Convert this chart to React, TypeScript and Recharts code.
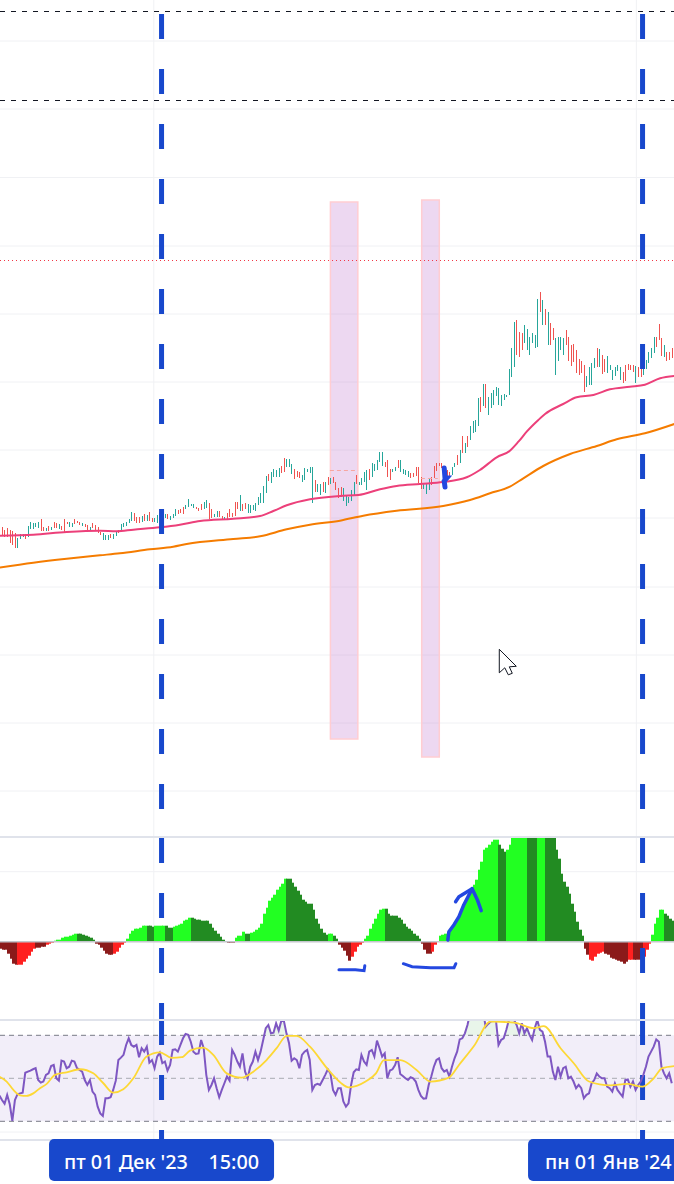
import React from "react";
import { ComposedChart, Bar, Line, Area, XAxis, YAxis, CartesianGrid, ReferenceLine, ReferenceArea, ReferenceDot } from "recharts";

const W = 674;
const UP = "#26a69a";
const DOWN = "#ef5350";
const BLUE = "#1848cc";
const INK = "#2448e0";
const GRID = "#f0f1f4";
const SEP = "#e0e3eb";

const candleHigh = [309,306,308,306,305,303,298,302,302,302,310,314,313,313,314,317,309,308,310,309,314,313,312,310,317,314,314,313,317,315,314,313,312,311,309,313,311,309,304,303,301,301,302,302,304,306,312,313,314,317,324,323,319,319,320,322,321,324,318,318,321,322,324,322,322,320,322,327,326,327,329,331,337,332,332,329,328,332,334,336,333,327,322,325,325,320,319,323,327,323,334,334,341,332,333,332,331,331,333,339,343,350,360,362,364,367,366,368,370,378,377,377,372,367,365,364,361,368,367,369,369,356,352,352,354,354,359,358,359,354,348,349,348,341,339,346,354,361,354,358,364,366,367,373,372,376,384,384,374,376,367,367,369,376,376,367,366,365,363,363,369,369,359,353,353,358,359,370,373,373,373,369,366,364,369,373,381,386,400,393,400,410,415,416,438,439,452,452,439,443,446,449,448,441,442,441,467,488,514,516,504,503,511,507,499,503,501,537,544,536,527,524,513,508,498,499,499,498,506,499,491,492,486,477,475,471,460,469,473,478,488,487,481,477,480,471,466,469,471,469,464,471,472,471,471,470,469,469,470,476,484,488,499,499,512,498,491,484,484,488];
const candleLow = [301,299,299,293,291,288,288,297,299,297,299,307,307,309,308,305,305,305,305,306,308,308,307,306,303,312,309,309,312,313,311,310,309,306,305,308,306,303,301,296,296,296,298,297,300,303,304,309,310,313,315,315,313,313,314,315,315,315,314,314,313,319,320,318,317,316,318,320,322,323,322,327,329,330,328,327,325,326,327,328,317,318,319,319,319,316,317,317,319,319,320,327,325,325,327,323,323,326,325,331,333,333,343,355,353,359,359,359,363,364,369,369,362,357,359,358,354,356,364,363,333,344,344,341,344,343,351,352,353,346,338,339,335,330,333,335,340,352,351,351,354,346,356,359,365,366,374,370,369,359,356,364,365,368,364,362,361,359,358,359,360,353,347,347,342,346,351,358,365,370,368,356,358,359,361,369,371,373,383,383,389,396,403,404,410,424,430,428,421,428,431,440,431,430,436,439,441,459,469,481,479,486,493,486,481,493,488,489,524,511,511,491,491,496,461,475,486,481,491,475,470,474,463,461,463,444,449,451,451,468,469,469,462,464,463,466,456,460,465,456,453,455,466,466,464,453,459,459,461,467,473,478,483,489,496,480,479,475,476,478];
const candleDir = "dddddduuuduuuuuddududduddduuddduddudddduuuduuduuuuudddududduuuuuduuuddduuuuddduudduuddudddddudduuuuuuuuduuuudduuuddduuuuuduudududddduuuuuduuuuduuuuuddduuduuuuddddduuudddddddduudududuuuududuuuuuuuuuuuddduuuuuudududduuuudddddddduuuududduuuuuudddddudduuuuudddudddduuuudduuddduuuuuuuuuuuudddd";
const oscLead = -7;
const oscValues = [-8,-8,-12,-17,-22,-23,-23,-23,-20,-17,-14,-10,-7,-6,-6,-5,-5,-3,-2,-1,1,2,2,4,5,5,6,7,8,8,8,7,6,5,4,2,-2,-3,-6,-9,-12,-13,-13,-12,-10,-6,-3,-1,3,8,11,13,13,14,16,16,16,16,15,16,16,16,16,16,14,14,15,16,17,18,21,22,24,24,23,22,22,21,21,21,18,14,11,8,5,2,0,-1,-1,-1,4,6,6,10,8,8,9,10,12,14,18,28,34,41,44,47,52,55,58,63,63,63,59,55,51,47,42,40,38,38,32,23,18,13,9,7,8,8,6,3,-3,-6,-9,-14,-19,-15,-10,-5,-3,-1,3,6,13,18,23,28,32,33,33,28,26,26,26,24,22,18,15,13,11,8,6,3,-2,-8,-12,-12,-10,-3,0,6,7,8,8,12,15,20,24,30,37,42,47,50,57,62,72,80,92,94,97,100,102,102,97,93,90,92,97,108,112,115,118,120,122,123,124,125,124,122,120,118,115,112,110,106,92,83,68,60,55,48,38,30,20,12,6,-7,-13,-18,-19,-15,-12,-11,-10,-12,-13,-16,-17,-18,-19,-20,-22,-20,-18,-18,-18,-18,-18,-17,-15,-8,-2,7,18,24,32,32,28,26,23,21];
const oscRunEnds = [5,12,16,19,28,35,42,47,55,58,62,65,72,86,89,93,95,109,125,127,129,134,139,147,161,165,168,191,194,202,206,209,224,226,232,241,243,247,250,255,259];
const oscRunColors = ["#8b1a1a","#ff2020","#8b1a1a","#ff2020","#22ff22","#228b22","#8b1a1a","#ff2020","#22ff22","#228b22","#22ff22","#228b22","#22ff22","#228b22","#8b1a1a","#22ff22","#228b22","#22ff22","#228b22","#22ff22","#228b22","#8b1a1a","#ff2020","#22ff22","#228b22","#8b1a1a","#ff2020","#22ff22","#228b22","#22ff22","#228b22","#22ff22","#228b22","#8b1a1a","#ff2020","#8b1a1a","#ff2020","#8b1a1a","#ff2020","#22ff22","#228b22"];
const rsiLead = 42;
const rsiValues = [39.9,38.2,42.3,37.9,30.2,39.9,42.6,43,43.3,52.6,53.1,53.6,54.2,54.7,49.2,48,48.5,51.6,52.3,55.7,56.2,50,48.9,58.2,57.8,54.7,55.4,58.2,57.8,54.7,53.9,53.1,49.2,46.9,49.2,43.8,42.3,36.8,33.7,32.5,40.7,40.7,41.2,44.6,48.9,58.5,59.6,60.9,65.5,68.6,65.5,64.7,65.5,59.8,64,62.4,64.7,57.3,58.5,54.7,60.1,61.9,57,57.8,53.6,56.2,63.2,63.5,62.4,65.5,68.6,70.6,70.2,67,62.4,61.3,61.6,67.8,64,51.6,44.6,46.9,50,45.4,41.2,44.6,47.7,50.8,48.9,63.2,60.9,57.8,55.4,61.6,53.1,50,55.4,57.8,62.4,58.5,62.4,67.8,73.3,74.8,70.9,71.2,75.6,72.2,76.7,76.7,70.9,66.3,58.2,59.3,58.5,54.7,60.9,62.4,63.2,58.5,44.6,46.9,47.4,46.9,49.2,51.6,54.2,52.3,44.6,42.3,45.4,45.4,39.2,36.8,38.4,46.9,52.8,54.2,53.9,60.9,57.8,56.2,62.4,63.2,60.1,67.5,64,60.1,61.6,50,53.6,54.2,56.2,59.8,52,51.1,50,49.2,50.5,50,48.5,44.6,41.8,40.5,40.7,46.9,50.8,55.4,58.5,59.3,54.7,53.1,53.9,50.8,55.4,59.3,62.4,68.1,68.6,70.9,74.8,80.2,83.3,84.9,83.3,84.1,81.8,74,75.3,76.4,76.7,77.1,65.5,67.8,68.6,72.5,77.1,80.2,77.1,74.8,70.9,75.6,70.9,73.3,70.2,67.8,73.3,77.1,72.5,71.7,67,60.1,60.1,53.1,49.2,55.4,50.8,54.7,55.4,50,50.8,48.5,45.4,46.9,45.4,40.7,42.3,43,47.7,49.2,52.3,50.8,50,50,46.1,45.4,43.8,47.7,44.6,43,41.5,49.2,49.5,46.1,48.5,44.6,46.9,48.5,51.6,55.4,60.1,62.4,64.7,68.1,67,55.4,52.3,50,52.3,47.7];

const emaFastX = [-1,12.1,25,37.9,44.3,50.8,61.1,68.8,76.6,89.4,99.8,104.9,110.1,119.1,130.7,137.8,146.2,152.6,161.6,170.6,179.7,184.8,191.3,196.4,199.7,202.9,207.4,210,217,222.2,228.7,235.1,242.8,248.6,254.5,260];
const emaFastY = [300.3,301.3,304,305.3,304.7,306.3,308.7,311.3,315,317.3,320,325,330.7,336.7,340,341,346.7,350,352,354,358.7,366,378.7,385.3,394.3,404.3,416,422,432,438.7,441,446.7,449.3,451.3,457.7,460];
const emaSlowX = [-1,12.1,25,37.9,45.6,57.2,66.2,71.4,89.4,99.8,110.1,119.1,130.7,139.7,152.6,170.6,181,188.7,196.4,201.6,209.3,219.7,230,237.7,248.6,260];
const emaSlowY = [268.3,273.3,277.3,280.7,282.7,286.7,289.3,292,297,299.7,306.7,311.3,315.3,320.3,325.3,330,336,342.7,349.3,357.7,370,382,390,396.7,402.7,412];
const rsiMaX = [-1,1.8,4.4,7,9.5,12.1,14.7,17.3,20.5,25,30.2,35.3,39.2,43,46.9,50.8,55.9,61.1,65.6,69.5,72.7,77.8,81.7,86.9,92.7,97.2,102.3,106.2,110.1,113.9,119.1,126.2,130.9,134.1,140.6,144.6,147.7,154.1,160.3,165.7,172.8,176.7,182.5,188.9,198,205.7,209.5,216,221.1,227,235.3,241.8,247.6,252,255.3,260];
const rsiMaY = [50.8,48.5,44.6,42.1,41.8,43,45.4,47.4,51.6,52.8,54.2,52.3,47.7,43.3,44.9,50,60.1,62.1,59.5,59.8,62.9,64.3,60.9,52.3,50.3,53.1,58.5,64,69.7,69.7,64.7,53.9,48,45.8,48.5,52.3,58.5,58.5,53.9,48.5,50.3,56.2,65,76.4,75.9,73.3,74.3,64,57,48.5,46.7,47.4,46.1,50,54.7,55.7];

const xDomain = [-0.77, 259.86];
const timeTicks = [61.7, 247.7];
const timeLabels = ["пт 01 Дек '23\u00A0\u00A0\u00A0\u00A015:00", "пн 01 Янв '24"];
const labelLeft = [112.5, 114.5];
const labelWidth = [225, 229];
const labelPad = [15, 17];
const priceGrid = [795, 727, 658.5, 590, 522, 454, 386, 318, 249, 181, 113, 45];
const timeGrid = [58.7, 245.3];
const blackLevels = [824.5, 735.5];
const redLevel = 575.5;
const zonesX1 = [127, 162.3];
const zonesX2 = [137.6, 169.1];
const zonesTop = [634, 636];
const zonesBottom = [97, 79];

const arrowShaftX = [172.4,172.8,174.8,176.7,178.6,181.8];
const arrowShaftY = [1.7,10,17,25,37,53];
const arrowHeadX = [175.4,176.7,181.8,183.8,185.3];
const arrowHeadY = [40,45,53,42,31];
const under1X = [130.3,136.7,140,140.3];
const under1Y = [-28,-28,-29,-24];
const under2X = [155.2,158.6,165.7,174.8,175.5];
const under2Y = [-22,-25,-26,-26,-22];
const blobX = [171,171.3,172,171,171.3];
const blobY = [368,358,358,355,349];

const pts = (xs: number[], ys: number[]) => xs.map((i, k) => ({ i, v: ys[k] }));

const candles = candleHigh.map((h, i) => ({
  i,
  range: [candleLow[i], h],
  color: candleDir[i] === "u" ? UP : DOWN,
}));
const oscData = [
  { i: -1, v: oscLead, color: oscRunColors[0] },
  ...oscValues.map((v, i) => ({ i, v, color: oscRunColors[oscRunEnds.findIndex((e) => i <= e)] })),
];
const rsiData = [
  { i: -1, v: rsiLead, over: null as number[] | null },
  ...rsiValues.map((v, i) => ({ i, v, over: v > 70 ? [70, v] : null })),
];

const CandleShape = (p: any) => {
  const top = Math.round(p.y);
  const bottom = Math.round(p.y + p.height);
  return <rect x={Math.round(p.x)} y={Math.min(top, bottom)} width={1} height={Math.max(Math.abs(bottom - top), 1)} fill={p.payload.color} />;
};
const OscShape = (p: any) => {
  const top = Math.min(p.y, p.y + p.height);
  return <rect x={Math.round(p.x)} y={top} width={3} height={Math.abs(p.height)} fill={p.payload.color} />;
};
const CursorShape = (p: any) => (
  <path
    transform={`translate(${p.cx},${p.cy})`}
    d="M0 0 L0 23.5 L5.5 18.5 L9 25.5 L13 24 L10 17.5 L17 17 Z"
    fill="#fff"
    stroke="#131722"
    strokeWidth={1}
  />
);
const TimeTick = (p: any) => {
  const k = timeTicks.indexOf(p.payload.value);
  const left = p.x - labelLeft[k];
  return (
    <g>
      <rect x={left} y={p.y} width={labelWidth[k]} height={42} rx={5} fill={BLUE} />
      <text
        x={left + labelPad[k]}
        y={p.y + 30}
        textAnchor="start"
        fill="#fff"
        fontFamily="'Noto Sans', sans-serif"
        fontWeight={500}
        fontSize={19.8}
      >
        {timeLabels[k]}
      </text>
    </g>
  );
};

const margin = { top: 0, right: 0, bottom: 0, left: 0 };

export default function App() {
  return (
    <div style={{ position: "absolute", left: 0, top: 0, width: W, height: 1184, background: "#fff", overflow: "hidden" }}>
      <div style={{ position: "absolute", left: 0, top: 0 }}>
        <ComposedChart width={W} height={836} data={candles} margin={margin}>
          <XAxis dataKey="i" type="number" domain={xDomain} allowDataOverflow hide />
          <YAxis domain={[0, 836]} allowDataOverflow hide />
          <CartesianGrid stroke={GRID} horizontalValues={priceGrid} verticalValues={timeGrid} />
          {zonesX1.map((x1, k) => (
            <ReferenceArea key={k} x1={x1} x2={zonesX2[k]} y1={zonesBottom[k]} y2={zonesTop[k]} fill="#ba68c8" fillOpacity={0.26} stroke="#ffcdd2" strokeWidth={1.5} />
          ))}
          {blackLevels.map((y) => (
            <ReferenceLine key={y} y={y} stroke="#131722" strokeWidth={1} strokeDasharray="5 6" />
          ))}
          <ReferenceLine y={redLevel} stroke="#f23645" strokeWidth={1} strokeDasharray="1 3" />
          <ReferenceLine segment={[{ x: 126.8, y: 365.5 }, { x: 137.7, y: 365.5 }]} stroke="#f7a6a0" strokeDasharray="4 3" />
          <ReferenceLine segment={[{ x: 162, y: 357.5 }, { x: 168.5, y: 357.5 }]} stroke="#f7a6a0" strokeDasharray="4 3" />
          <Bar dataKey="range" barSize={1} shape={CandleShape} isAnimationActive={false} />
          <Line data={pts(emaSlowX, emaSlowY)} type="monotone" dataKey="v" stroke="#f57c00" strokeWidth={2} dot={false} isAnimationActive={false} />
          <Line data={pts(emaFastX, emaFastY)} type="monotone" dataKey="v" stroke="#ec407a" strokeWidth={2} dot={false} isAnimationActive={false} />
          {timeTicks.map((x) => (
            <ReferenceLine key={x} x={x} stroke={BLUE} strokeWidth={5} strokeDasharray="25 30" strokeDashoffset={28} />
          ))}
          <Line data={pts(blobX, blobY)} dataKey="v" stroke={INK} strokeWidth={5} strokeLinecap="round" dot={false} isAnimationActive={false} />
          <ReferenceDot x={192.3} y={186.7} shape={CursorShape} />
        </ComposedChart>
      </div>
      <div style={{ position: "absolute", left: 0, top: 836, width: W, height: 2, background: SEP }} />
      <div style={{ position: "absolute", left: 0, top: 838 }}>
        <ComposedChart width={W} height={181} data={oscData} margin={margin}>
          <XAxis dataKey="i" type="number" domain={xDomain} allowDataOverflow hide />
          <YAxis domain={[-77.3, 103.7]} allowDataOverflow hide />
          <CartesianGrid stroke={GRID} horizontalValues={[70]} verticalValues={timeGrid} />
          <Bar dataKey="v" barSize={3} shape={OscShape} isAnimationActive={false} />
          <ReferenceLine y={0} stroke="#c4c6cc" strokeWidth={1.5} />
          {timeTicks.map((x) => (
            <ReferenceLine key={x} x={x} stroke={BLUE} strokeWidth={5} strokeDasharray="25 30" strokeDashoffset={9} />
          ))}
          <Line data={pts(arrowShaftX, arrowShaftY)} dataKey="v" stroke={INK} strokeWidth={3.5} strokeLinejoin="round" strokeLinecap="round" dot={false} isAnimationActive={false} />
          <Line data={pts(arrowHeadX, arrowHeadY)} dataKey="v" stroke={INK} strokeWidth={3.5} strokeLinejoin="round" strokeLinecap="round" dot={false} isAnimationActive={false} />
          <Line data={pts(under1X, under1Y)} dataKey="v" stroke={INK} strokeWidth={3} strokeLinecap="round" dot={false} isAnimationActive={false} />
          <Line data={pts(under2X, under2Y)} dataKey="v" stroke={INK} strokeWidth={3} strokeLinecap="round" dot={false} isAnimationActive={false} />
        </ComposedChart>
      </div>
      <div style={{ position: "absolute", left: 0, top: 1019, width: W, height: 2, background: SEP }} />
      <div style={{ position: "absolute", left: 0, top: 1139, width: W, height: 2, background: SEP }} />
      <div style={{ position: "absolute", left: 0, top: 1021 }}>
        <ComposedChart width={W} height={163} data={rsiData} margin={margin}>
          <XAxis
            dataKey="i"
            type="number"
            domain={xDomain}
            allowDataOverflow
            ticks={timeTicks}
            interval={0}
            height={45}
            tick={TimeTick}
            tickLine={false}
            axisLine={false}
            tickSize={0}
            tickMargin={0}
          />
          <YAxis domain={[21.77, 76.65]} allowDataOverflow hide />
          <CartesianGrid stroke={GRID} horizontalValues={[75, 25]} verticalValues={timeGrid} />
          <ReferenceArea y1={30} y2={70} fill="#7e57c2" fillOpacity={0.1} />
          <ReferenceLine y={70} stroke="#787b86" strokeDasharray="5 4" />
          <ReferenceLine y={50} stroke="#a8aab2" strokeDasharray="5 4" />
          <ReferenceLine y={30} stroke="#787b86" strokeDasharray="5 4" />
          <Area dataKey="over" stroke="none" fill="#4caf50" fillOpacity={0.12} isAnimationActive={false} />
          {timeTicks.map((x) => (
            <ReferenceLine key={x} x={x} stroke={BLUE} strokeWidth={5} strokeDasharray="25 30" strokeDashoffset={16} />
          ))}
          <Line dataKey="v" stroke="#7e57c2" strokeWidth={2} dot={false} isAnimationActive={false} />
          <Line data={pts(rsiMaX, rsiMaY)} type="monotone" dataKey="v" stroke="#fdd835" strokeWidth={1.8} dot={false} isAnimationActive={false} />
        </ComposedChart>
      </div>
    </div>
  );
}
